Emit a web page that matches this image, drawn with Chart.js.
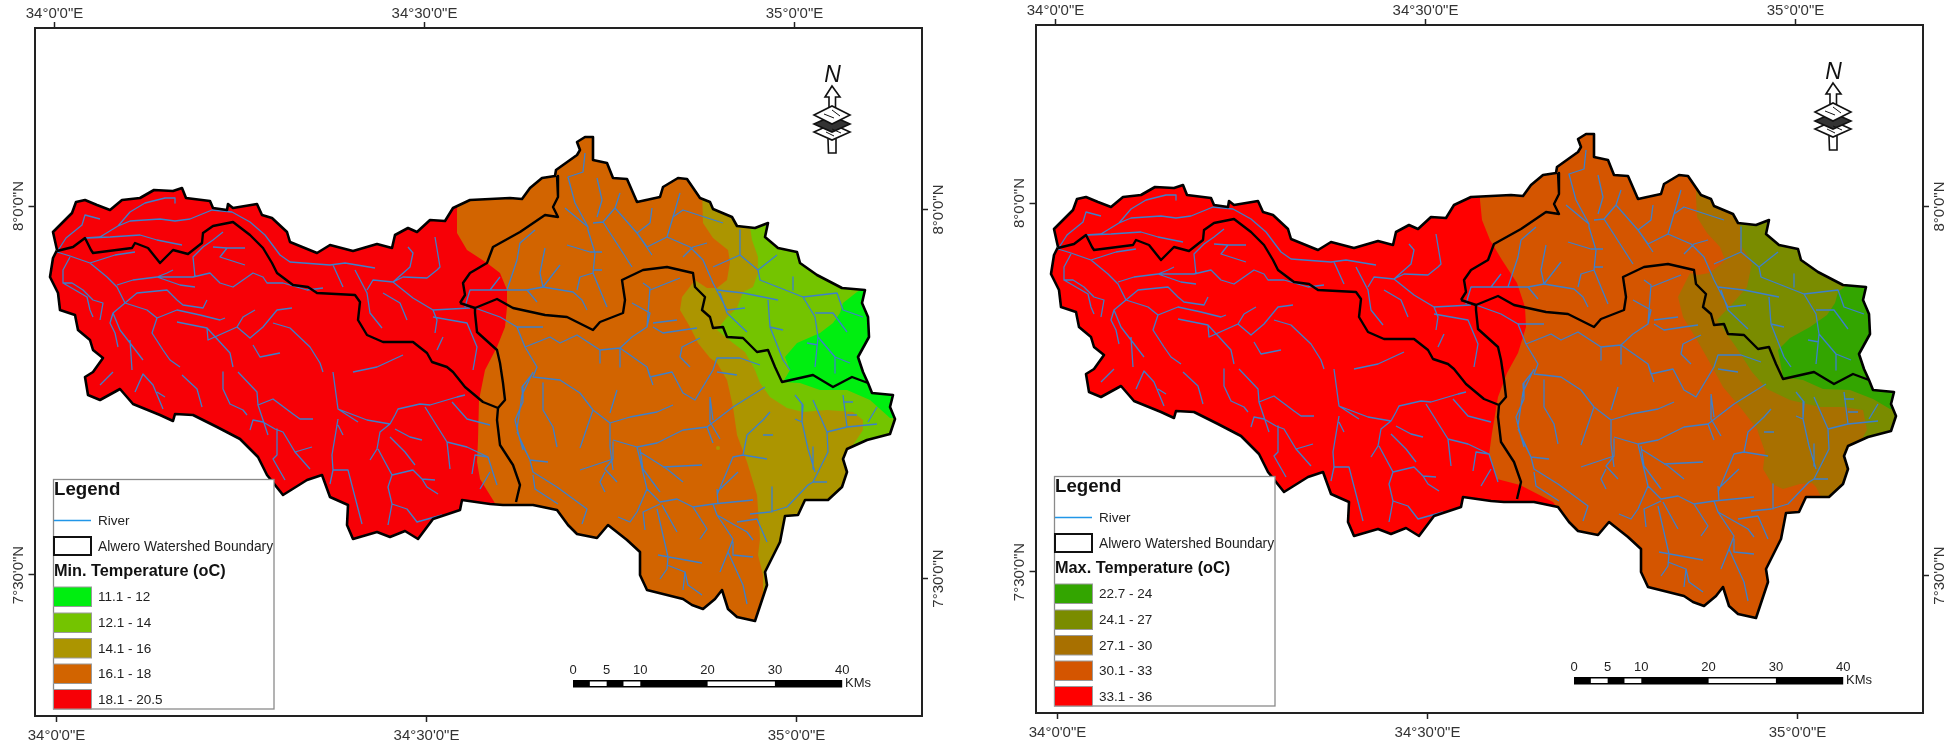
<!DOCTYPE html>
<html><head><meta charset="utf-8">
<style>html,body{margin:0;background:#fff;overflow:hidden;width:1947px;height:744px}
canvas{position:absolute;display:block}</style>
<script src="https://cdn.jsdelivr.net/npm/chart.js@4"></script>
</head><body>
<canvas id="minMap" width="946" height="744" style="left:0;top:0"></canvas>
<canvas id="maxMap" width="946" height="744" style="left:1001px;top:-3px"></canvas>
<script>
// All map geometry is read from the picture as map-grid values: [east, north, east, north, ...]
// where one grid unit is 1/740 degree of longitude east of 34E, or 1/738 degree of latitude north of 8N.
const lonTicks = [34, 34.5, 35];
const lonLabels = ['34°0\'0"E', '34°30\'0"E', '35°0\'0"E'];
const latTicks = [7.5, 8];
const latLabels = ['7°30\'0"N', '8°0\'0"N'];
const minClasses = ['11.1 - 12', '12.1 - 14', '14.1 - 16', '16.1 - 18', '18.1 - 20.5'];
const maxClasses = ['22.7 - 24', '24.1 - 27', '27.1 - 30', '30.1 - 33', '33.1 - 36'];
const scaleKm = [0, 5, 10, 20, 30, 40];

const basinOutline = [1,-44,-3,-26,6,-17,16,-7,20,4,29,6,41,1,54,-4,66,6,84,8,98,16,117,15,126,18,130,8,154,5,157,-2,171,-4,172,2,177,-2,201,2,206,-9,216,-12,231,-26,234,-36,261,-47,274,-39,297,-45,321,-38,336,-42,339,-29,352,-22,361,-26,374,-14,389,-15,397,-2,414,6,454,8,466,7,474,18,486,28,499,30,500,36,521,51,524,56,521,64,529,69,537,69,537,46,551,43,557,28,571,27,581,4,604,9,607,19,622,28,631,27,644,8,654,4,657,-3,676,-11,681,-20,699,-22,712,-17,709,-31,722,-42,741,-46,744,-57,761,-69,786,-82,809,-84,806,-97,812,-111,813,-131,802,-151,807,-166,812,-177,816,-187,837,-189,834,-201,839,-213,834,-228,811,-234,791,-243,787,-253,791,-266,786,-281,772,-294,749,-294,742,-309,729,-310,724,-336,709,-366,711,-379,699,-415,681,-411,672,-403,666,-384,659,-393,647,-403,636,-399,627,-393,591,-384,584,-369,584,-346,571,-334,552,-319,541,-332,521,-328,512,-319,501,-304,477,-299,447,-299,434,-298,406,-294,404,-304,377,-313,362,-333,349,-325,334,-331,321,-326,297,-333,291,-319,292,-299,274,-291,266,-269,251,-274,227,-289,211,-269,202,-251,184,-233,161,-221,137,-209,119,-208,117,-215,104,-209,77,-198,64,-183,44,-194,32,-189,29,-171,37,-166,47,-152,37,-144,34,-134,22,-124,19,-109,4,-104,2,-87,-6,-71,-3,-52,1,-44];
const divideSouth = [1,-45,17,-41,29,-32,35,-44,37,-47,76,-42,79,-37,92,-42,104,-57,117,-44,132,-48,146,-37,147,-27,157,-20,177,-16,194,-29,207,-42,216,-57,221,-67,237,-79,252,-81,261,-87,299,-89,304,-96,302,-114,311,-129,327,-136,357,-136,371,-147,376,-156,391,-161,397,-166,409,-181,427,-196,442,-202,441,-214,444,-239,457,-259,464,-279,460,-296];
const divideNorth = [501,30,502,9,497,-1,502,-11,489,-9,464,-26,437,-41,431,-57,414,-67,407,-77,409,-89,404,-97];
const divideEast = [404,-97,419,-102,441,-93,457,-102,489,-109,511,-111,537,-124,544,-116,567,-107,569,-94,566,-74,587,-64,611,-61,637,-67,639,-81,649,-91,646,-104,654,-111,657,-122,667,-121,671,-131,687,-132,701,-146,712,-144,719,-161,726,-176,757,-169,777,-181,796,-171,812,-177];
const divideLink = [419,-102,419,-107,421,-126,441,-144,444,-157,447,-177,449,-194,442,-202];

const riverReaches = [
[1,-46,10,-32,26,-19,29,-9,44,-13],
[29,-32,44,-31,62,-20,74,-15,104,-13,119,-15,134,-13,156,-4,176,-6,194,-16,209,-29,224,-49,234,-56,274,-59,289,-57,319,-62],
[62,-20,74,-6,89,3,109,8,119,8,119,3],
[31,-32,54,-31,84,-29,101,-34,126,-39],
[1,-46,14,-50,34,-57,59,-49,79,-46],
[14,-51,7,-64,7,-77,16,-77,27,-84,37,-94,47,-97,44,-114],
[7,-77,31,-91,34,-104,37,-111],
[34,-57,51,-71,61,-81,69,-97,57,-107,54,-117,59,-127,62,-141],
[57,-107,64,-124,74,-137,87,-154],
[74,-134,76,-164],
[61,-79,77,-74,101,-71,111,-67,117,-64],
[101,-71,124,-79,139,-81],
[139,-71,137,-51,147,-41,157,-34,167,-26],
[101,-71,137,-71,154,-67,164,-77,177,-81,197,-67,207,-71,211,-77,227,-77,251,-84,267,-82],
[157,-41,171,-42,164,-51,189,-59],
[171,-42,189,-42],
[69,-97,81,-87,111,-84,121,-94,127,-99,147,-102,151,-94],
[69,-97,91,-104,101,-112,121,-104,144,-109,164,-114,169,-112],
[101,-112,96,-127,107,-144,114,-154,124,-161],
[151,-122,152,-134,181,-121,187,-111,199,-104],
[121,-116,151,-122,174,-147,177,-161],
[181,-121,194,-132,207,-121,221,-104,236,-102],
[217,-117,234,-122,254,-141,264,-157,267,-166],
[197,-139,204,-151,224,-147],
[277,-59,287,-81],
[299,-64,311,-87,314,-107,326,-122],
[311,-84,317,-74,337,-76,354,-61,357,-47,352,-41],
[337,-76,347,-71,371,-72,381,-64,384,-61,379,-31],
[337,-76,357,-92,377,-104,414,-102],
[327,-87,344,-97,351,-114],
[377,-104,381,-114,379,-127],
[387,-131,381,-144],
[377,-111,411,-117,421,-141,417,-164],
[297,-166,321,-161,347,-149],
[44,-179,57,-166],
[79,-186,87,-168,97,-179,107,-203],
[101,-186,109,-191],
[126,-169,141,-183,146,-201],
[167,-166,167,-183,174,-198,187,-204,191,-209],
[182,-166,201,-186,202,-199,217,-193,237,-208,244,-213,257,-213],
[202,-199,212,-229],
[194,-224,197,-214,207,-216,219,-223,227,-226,239,-246,254,-263],
[239,-246,256,-241],
[221,-223,221,-249,217,-253,229,-274],
[277,-166,282,-203,302,-216],
[282,-203,311,-214,334,-218],
[282,-213,276,-249,277,-264,292,-264,306,-318],
[282,-219,287,-229],
[277,-264,274,-278],
[334,-218,324,-226,321,-243,314,-254],
[322,-243,336,-269,332,-281,336,-298,332,-319],
[336,-269,357,-264,366,-273,379,-274],
[366,-273,371,-281,382,-288],
[336,-298,351,-303,361,-316,386,-309],
[339,-223,354,-231,366,-234],
[334,-231,349,-246,359,-259],
[334,-218,339,-209,342,-203,364,-198,374,-199,401,-191,409,-189],
[369,-201,391,-236,411,-241,432,-251],
[391,-236,394,-263],
[396,-196,411,-213,434,-219],
[416,-268,419,-249,432,-251,441,-279],
[424,-283,434,-266],
[409,-101,411,-94,414,-84,434,-84,451,-84,471,-84,487,-81],
[434,-84,444,-71],
[471,-84,481,-96],
[451,-84,461,-54,464,-37,479,-24],
[489,-42,484,-67,487,-81,504,-59],
[487,-81,517,-86,526,-94,531,-104],
[521,-84,524,-71,537,-67,551,-101],
[537,-67,539,-47,532,-24,532,-21,509,-2],
[511,-39,534,-46,546,-46],
[537,-64,546,-64],
[532,-21,519,3,512,29,527,34,529,53],
[537,-17,547,-16,559,-2,564,13],
[559,-2,581,-27,596,-49],
[547,-16,576,-61],
[541,28,546,6,541,-11],
[581,-27,594,-17,596,-2],
[581,-27,591,-41,611,-31,634,-41,647,-54,657,-77,671,-104,689,-102],
[611,-31,617,-11,624,13],
[617,-11,627,-4,667,-17],
[627,-51,637,-41,651,-37],
[684,-24,684,-49,702,-64,721,-49],
[702,-64,704,-74,747,-91,759,-111,762,-131,759,-161],
[684,-49,657,-61],
[747,-91,781,-87,787,-104,807,-111],
[759,-107,777,-107,791,-126],
[762,-131,779,-151,794,-157],
[779,-151,779,-167],
[751,-137,762,-139],
[737,-71,737,-84],
[661,-84,687,-87,722,-94],
[712,-94,714,-121,727,-154,734,-164],
[664,-87,671,-107,691,-126],
[714,-121,727,-124],
[419,-102,444,-111,461,-121,487,-121],
[461,-121,469,-141,494,-131,504,-137,521,-129,544,-144,564,-142,576,-131,591,-121,594,-107,576,-97],
[591,-121,594,-82,587,-77],
[594,-84,624,-72],
[597,-117,621,-114],
[597,-121,607,-127,627,-124,641,-122],
[564,-142,591,-161,594,-171,616,-166,627,-187,639,-194,657,-164,661,-152,684,-152,704,-159],
[661,-166,681,-169],
[591,-161,597,-179],
[564,-142,564,-161],
[544,-144,544,-157],
[644,-132,626,-141,624,-151,634,-161],
[469,-141,481,-161,477,-171,504,-174,524,-187,537,-204,554,-217,554,-241,557,-264],
[477,-167,466,-181,467,-196,459,-214,464,-234,474,-254,492,-256],
[487,-177,487,-204,497,-221,501,-241],
[537,-204,524,-242],
[554,-217,574,-211,601,-206,617,-199],
[554,-207,561,-184],
[557,-234,581,-241,601,-237,627,-224,651,-221,677,-201,709,-181],
[651,-221,657,-237],
[654,-191,657,-214],
[474,-254,477,-266,501,-281,531,-303,526,-318],
[477,-269,479,-283,502,-298],
[461,-226,474,-254],
[581,-241,591,-283,604,-296,621,-293,637,-301,651,-323,644,-333],
[557,-253,524,-264],
[557,-236,557,-253,549,-263,561,-276],
[549,-266,544,-276,549,-286],
[584,-246,611,-263,627,-276],
[607,-261,646,-259],
[591,-283,581,-306,574,-316,562,-311],
[604,-298,587,-306,589,-324],
[601,-303,612,-351,611,-363,604,-373],
[606,-299,621,-326],
[602,-349,646,-357],
[611,-359,629,-366,627,-384],
[629,-366,632,-379,646,-389],
[637,-301,657,-298,697,-294],
[657,-298,661,-309,677,-333,672,-346,664,-366],
[677,-336,677,-349,697,-351],
[672,-346,687,-379,691,-398],
[661,-309,691,-326,697,-334],
[681,-316,701,-313,711,-336],
[661,-283,662,-298],
[661,-286,682,-266],
[694,-308,714,-306,731,-301,752,-279,757,-276,771,-276],
[716,-281,716,-306],
[757,-276,772,-246,771,-226,757,-194],
[771,-226,791,-221,821,-218],
[791,-221,787,-189],
[787,-196,797,-196],
[791,-209,801,-209],
[739,-189,747,-199,746,-216,739,-213],
[746,-216,752,-243,759,-266],
[757,-241,757,-263],
[812,-216,821,-201],
[687,-249,691,-229,707,-214,714,-206],
[687,-249,711,-253],
[707,-229,717,-229],
[687,-249,677,-251,661,-289],
[654,-193,654,-216,664,-233],
[584,-243,587,-263,604,-286],
[467,-244,461,-223,466,-189,477,-166]
];

// Temperature class areas, each painted over the warmer class and trimmed to the basin outline.
const minOrange = [402,16,401,-4,401,-27,411,-44,431,-57,444,-67,451,-84,451,-101,449,-121,441,-141,429,-164,423,-194,422,-234,421,-256,424,-273,437,-294,449,-314,449,-450,900,-450,900,100,402,100];
const minOlive = [646,16,647,-17,657,-32,672,-44,674,-56,671,-74,661,-82,651,-82,639,-74,626,-91,624,-104,634,-121,642,-137,654,-152,661,-157,671,-174,677,-201,681,-229,691,-256,701,-289,704,-333,702,-349,707,-369,707,-450,900,-450,900,16];
const minGreen = [692,-9,696,-34,702,-51,702,-67,697,-81,687,-86,681,-102,671,-111,661,-124,677,-137,689,-146,699,-164,704,-177,714,-191,731,-202,747,-206,771,-204,797,-206,807,-214,807,-224,797,-239,900,-239,900,-9];
const minBright = [814,-79,801,-86,787,-97,784,-107,777,-117,764,-127,741,-137,729,-151,734,-164,727,-176,744,-177,764,-184,791,-184,814,-194,834,-212,900,-212,900,-79];
const minSpot = [662,-242];
const maxOrange = [423,16,423,3,425,-17,433,-37,445,-57,460,-80,468,-104,469,-124,461,-150,450,-170,441,-194,435,-230,432,-252,440,-276,463,-282,496,-299,514,-324,514,-450,900,-450,900,100,423,100];
const maxBrown = [639,16,639,6,640,-14,650,-30,663,-44,668,-57,663,-62,652,-70,641,-72,633,-70,621,-94,626,-114,640,-137,653,-160,666,-184,683,-204,700,-226,708,-249,706,-266,715,-281,726,-286,743,-281,755,-280,759,-284,769,-304,900,-304,900,16];
const maxOlive = [683,-9,683,-22,685,-44,695,-60,690,-84,676,-100,660,-117,679,-144,695,-169,710,-186,733,-197,763,-204,786,-204,806,-207,810,-227,806,-234,900,-234,900,-9];
const maxGreen = [794,-79,781,-89,778,-100,770,-112,753,-124,733,-135,721,-147,726,-174,746,-177,766,-186,793,-187,816,-196,833,-206,900,-206,900,-79];

const grid = a => { const out = []; for (let i = 0; i < a.length; i += 2) out.push({x: 34 + a[i] / 740, y: 8 + a[i + 1] / 738}); return out; };
const FONT = '"Liberation Sans", Arial, sans-serif';
const RIVER = '#3c80cc';

// The clip must be set before the fill is painted, so it is registered ahead of the filler.
const basinClip = {
  id: 'basinClip',
  beforeDatasetDraw(chart, args) {
    if (!chart.data.datasets[args.index].trimToBasin) return;
    const pts = grid(basinOutline), c = chart.ctx, X = chart.scales.x, Y = chart.scales.y;
    c.save(); c.beginPath();
    pts.forEach((p, i) => { const px = X.getPixelForValue(p.x), py = Y.getPixelForValue(p.y); i ? c.lineTo(px, py) : c.moveTo(px, py); });
    c.closePath(); c.clip();
  },
  afterDatasetDraw(chart, args) { if (chart.data.datasets[args.index].trimToBasin) chart.ctx.restore(); }
};
const filler = Chart.registry.getPlugin('filler');
Chart.unregister(filler); Chart.register(basinClip); Chart.register(filler);

const sheet = {
  id: 'sheet',
  afterDraw(chart) {
    const c = chart.ctx, o = chart.options.plugins.sheet;
    c.save();
    // latitude labels, rotated along the frame
    c.fillStyle = '#333'; c.font = '15px ' + FONT; c.textAlign = 'center'; c.textBaseline = 'middle';
    [['yLeft', 18.5], ['yRight', 938.5]].forEach(([id, x]) => {
      latTicks.forEach((t, i) => {
        c.save(); c.translate(x, chart.scales[id].getPixelForValue(t)); c.rotate(-Math.PI / 2);
        c.fillText(latLabels[i], 0, 0); c.restore();
      });
    });
    // legend
    c.fillStyle = '#fff'; c.fillRect(53.5, 479.5, 220.5, 229.5);
    c.strokeStyle = '#8a8a8a'; c.lineWidth = 1.3; c.strokeRect(53.5, 479.5, 220.5, 229.5);
    c.textBaseline = 'middle'; c.textAlign = 'left';
    c.fillStyle = '#111'; c.font = 'bold 18.7px ' + FONT; c.fillText('Legend', 54, 489.5);
    c.strokeStyle = '#2196e8'; c.lineWidth = 1.5; c.beginPath(); c.moveTo(54, 520.5); c.lineTo(91, 520.5); c.stroke();
    c.fillStyle = '#222'; c.font = '13.5px ' + FONT; c.fillText('River', 98, 521);
    c.strokeStyle = '#111'; c.lineWidth = 2; c.strokeRect(54, 537, 37, 18);
    c.font = '13.8px ' + FONT; c.fillText('Alwero Watershed Boundary', 98, 547);
    c.fillStyle = '#111'; c.font = 'bold 16.3px ' + FONT; c.fillText(o.title, 54, 572);
    [587, 613, 638.5, 664, 689.5].forEach((y, i) => {
      c.fillStyle = o.colors[i]; c.fillRect(53.5, y, 38, 19.5);
      c.strokeStyle = '#9a9a9a'; c.lineWidth = 1; c.strokeRect(53.5, y, 38, 19.5);
      c.fillStyle = '#222'; c.font = '13.5px ' + FONT; c.fillText(o.classes[i], 98, y + 10.5);
    });
    // scale bar
    const kmX = km => 573 + km * 6.73;
    c.fillStyle = '#000'; c.fillRect(kmX(0), 680, kmX(40) - kmX(0), 7.5);
    c.fillStyle = '#fff'; [[2.5, 5], [7.5, 10], [20, 30]].forEach(s => c.fillRect(kmX(s[0]), 681.5, kmX(s[1]) - kmX(s[0]), 4.5));
    c.fillStyle = '#222'; c.font = '13px ' + FONT; c.textAlign = 'center';
    scaleKm.forEach(k => c.fillText(String(k), kmX(k), 670.5));
    c.textAlign = 'left'; c.fillText('KMs', 845, 683.5);
    // north arrow
    c.fillStyle = '#111'; c.textAlign = 'center'; c.font = 'italic 23px ' + FONT; c.fillText('N', 832.5, 76);
    c.strokeStyle = '#111'; c.lineWidth = 1.6; c.fillStyle = '#fff'; c.lineJoin = 'miter';
    c.beginPath(); [[832, 86], [840, 97], [835.5, 97], [835.5, 110], [829, 110], [829, 97], [825, 97]].forEach((p, i) => i ? c.lineTo(p[0], p[1]) : c.moveTo(p[0], p[1])); c.closePath(); c.fill(); c.stroke();
    c.beginPath(); c.moveTo(828, 139); c.lineTo(828.5, 153); c.lineTo(836, 153); c.lineTo(836, 139); c.fill(); c.stroke();
    [[132, 18, 8, '#fff'], [124, 18, 8, '#333'], [115, 18, 9, '#fff']].forEach(d => {
      c.fillStyle = d[3]; c.beginPath(); c.moveTo(832 - d[1], d[0]); c.lineTo(832, d[0] - d[2]); c.lineTo(832 + d[1], d[0]); c.lineTo(832, d[0] + d[2]); c.closePath(); c.fill(); c.stroke();
    });
    c.lineWidth = 1; c.beginPath(); c.moveTo(824, 114); c.lineTo(834, 118); c.moveTo(832, 110); c.lineTo(840, 116); c.moveTo(826, 132); c.lineTo(834, 136); c.moveTo(832, 129); c.lineTo(841, 133); c.stroke();
    c.restore();
  }
};

function axis(kind, position, shift) {
  const isX = kind === 'x', tick = isX ? lonTicks : latTicks, label = isX ? lonLabels : latLabels;
  const range = isX ? {min: 34 + (-21.5 + shift) / 740, max: 34 + (866 + shift) / 740}
                    : {min: 8 + (-510 + shift) / 738, max: 8 + (178 + shift) / 738};
  return {
    type: 'linear', axis: kind, position, ...range,
    afterBuildTicks: s => { s.ticks = tick.map(value => ({value})); },
    afterFit: s => { if (isX) s.height = 28; else s.width = position === 'left' ? 34.5 : 24; },
    border: {display: true, color: '#222', width: 2},
    grid: {drawOnChartArea: false, drawTicks: true, tickLength: 6, color: '#222', tickWidth: 1.5},
    ticks: {
      display: isX, autoSkip: false, color: '#333', font: {family: FONT, size: 15},
      padding: position === 'top' ? -1 : 5, minRotation: 0, maxRotation: 0,
      callback: v => label[tick.indexOf(v)]
    }
  };
}

function area(points, color, order) {
  return {data: grid(points), showLine: true, fill: 'shape', backgroundColor: color, borderWidth: 0, borderColor: 'transparent', pointRadius: 0, order, trimToBasin: true};
}
function rule(points, width, order) {
  return {data: grid(points), showLine: true, fill: false, borderColor: '#000', borderWidth: width, borderJoinStyle: 'round', pointRadius: 0, order};
}
function draw(id, title, classes, colors, zones, extra) {
  const rivers = [];
  riverReaches.forEach(r => { rivers.push(...grid(r), {x: null, y: null}); });
  new Chart(document.getElementById(id), {
    type: 'scatter',
    data: {datasets: [
      rule(basinOutline, 2.6, 0), rule(divideSouth, 2.4, 0), rule(divideNorth, 2.4, 0), rule(divideEast, 2.4, 0), rule(divideLink, 2.4, 0),
      {data: rivers, showLine: true, spanGaps: false, fill: false, borderColor: RIVER, borderWidth: 1.3, borderJoinStyle: 'round', pointRadius: 0, order: 1},
      ...extra,
      ...zones.map((z, i) => area(z, colors[i], 2 + i)),
      area(basinOutline, colors[4], 6)
    ]},
    options: {
      responsive: false, animation: false, devicePixelRatio: 1,
      layout: {padding: 0},
      events: [],
      plugins: {legend: {display: false}, tooltip: {enabled: false}, sheet: {title, classes, colors}},
      scales: {
        x: {type: 'linear', display: false, min: 34 - 21.5 / 740, max: 34 + 866 / 740},
        y: {type: 'linear', display: false, min: 8 - 510 / 738, max: 8 + 178 / 738},
        xTop: axis('x', 'top', 1.5),
        xBottom: axis('x', 'bottom', -0.5),
        yLeft: axis('y', 'left', 0),
        yRight: axis('y', 'right', 3.5)
      }
    },
    plugins: [sheet]
  });
}
draw('minMap', 'Min. Temperature (oC)', minClasses, ['#00ee10', '#74c400', '#ac9500', '#d26400', '#f70006'],
  [minBright, minGreen, minOlive, minOrange],
  [{data: grid(minSpot), pointRadius: 2, pointBackgroundColor: '#ac9500', pointBorderWidth: 0, order: 1.5}]);
draw('maxMap', 'Max. Temperature (oC)', maxClasses, ['#33a500', '#7a8c00', '#a87000', '#d45500', '#ff0000'],
  [maxGreen, maxOlive, maxBrown, maxOrange], []);
</script>
</body></html>
